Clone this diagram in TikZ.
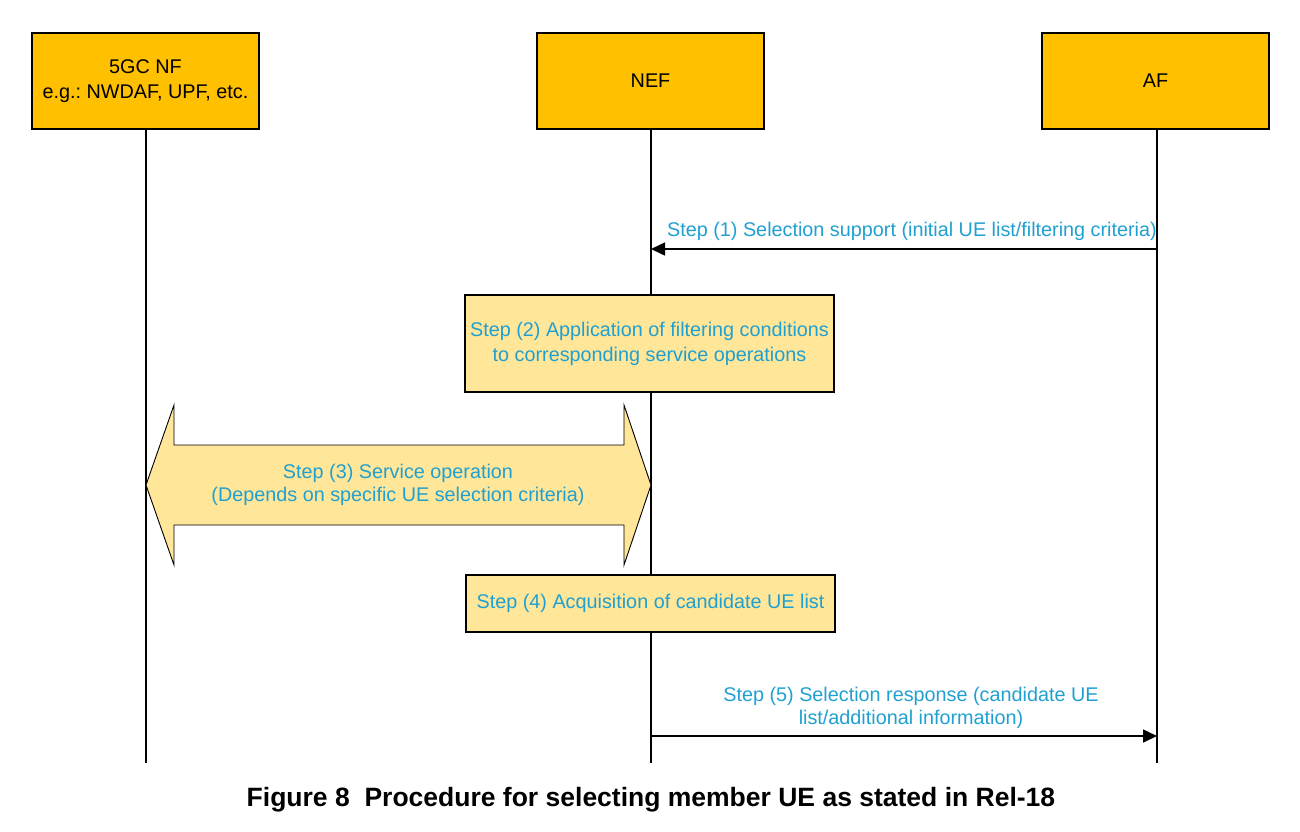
\documentclass[tikz,border=0pt]{standalone}
\usepackage{fontspec}
\setmainfont{Liberation Sans}
\usetikzlibrary{arrows.meta}
\definecolor{hdrfill}{HTML}{FFC000}
\definecolor{stepfill}{HTML}{FFE699}
\definecolor{steptext}{RGB}{32,160,208}
\frenchspacing
\tikzset{
  hdr/.style={draw=black, line width=1.6pt, fill=hdrfill, minimum width=227pt, minimum height=96pt, inner sep=0pt, align=center, font=\fontsize{19.8}{25}\selectfont},
  stepbox/.style={draw=black, line width=1.4pt, fill=stepfill, minimum width=369pt, inner sep=0pt, align=center, text=steptext, font=\fontsize{19.8}{25}\selectfont},
  life/.style={line width=1.2pt},
  msg/.style={line width=1.6pt, -{Triangle[length=14pt,width=13pt]}},
  lbl/.style={text=steptext, align=center, font=\fontsize{19.8}{23}\selectfont, inner sep=0pt},
}
\begin{document}
\begin{tikzpicture}[x=1pt,y=-1pt]
\useasboundingbox (0,0) rectangle (1300,831);
% headers
\node[hdr] (nf) at (145.5,81) {5GC NF\\e.g.: NWDAF, UPF, etc.};
\node[hdr] (nef) at (650.5,81) {NEF};
\node[hdr] (af) at (1155.5,81) {AF};
\coordinate (nfend) at (146,763);
\coordinate (nefend) at (651,763);
\coordinate (afend) at (1157,763);
\draw[life] (nf.south -| nfend) -- (nfend);
\draw[life] (nef.south -| nefend) -- (nefend);
\draw[life] (af.south -| afend) -- (afend);
% step 1
\coordinate (s1a) at (1157,249);
\coordinate (s1b) at (651,249);
\draw[msg] (s1a) -- (s1b);
\node[lbl, anchor=base east] (l1) at (1157,236) {Step (1) Selection support (initial UE list/filtering criteria)};
% step 2
\node[stepbox, minimum height=97pt] (s2) at (649.5,343.5) {Step (2) Application of filtering conditions\\to corresponding service operations};
% step 3
\filldraw[fill=stepfill, draw=black, line width=0.9pt]
  (146,485) -- (174,405) -- (174,445) -- (624,445) -- (624,405) -- (651,485)
  -- (624,565) -- (624,525) -- (174,525) -- (174,565) -- cycle;
\node[lbl] (s3) at (398,485) {Step (3) Service operation\\(Depends on specific UE selection criteria)};
% step 4
\node[stepbox, minimum height=57pt] (s4) at (650.5,603.5) {Step (4) Acquisition of candidate UE list};
% step 5
\coordinate (s5a) at (651,736);
\coordinate (s5b) at (1157,736);
\draw[msg] (s5a) -- (s5b);
\node[lbl] (l5) at (911,708) {Step (5) Selection response (candidate UE\\list/additional information)};
% caption
\node[font=\bfseries\fontsize{26.5}{30}\selectfont, inner sep=0pt] (cap) at (651,800) {Figure 8\ \ Procedure for selecting member UE as stated in Rel-18};
\end{tikzpicture}
\end{document}
